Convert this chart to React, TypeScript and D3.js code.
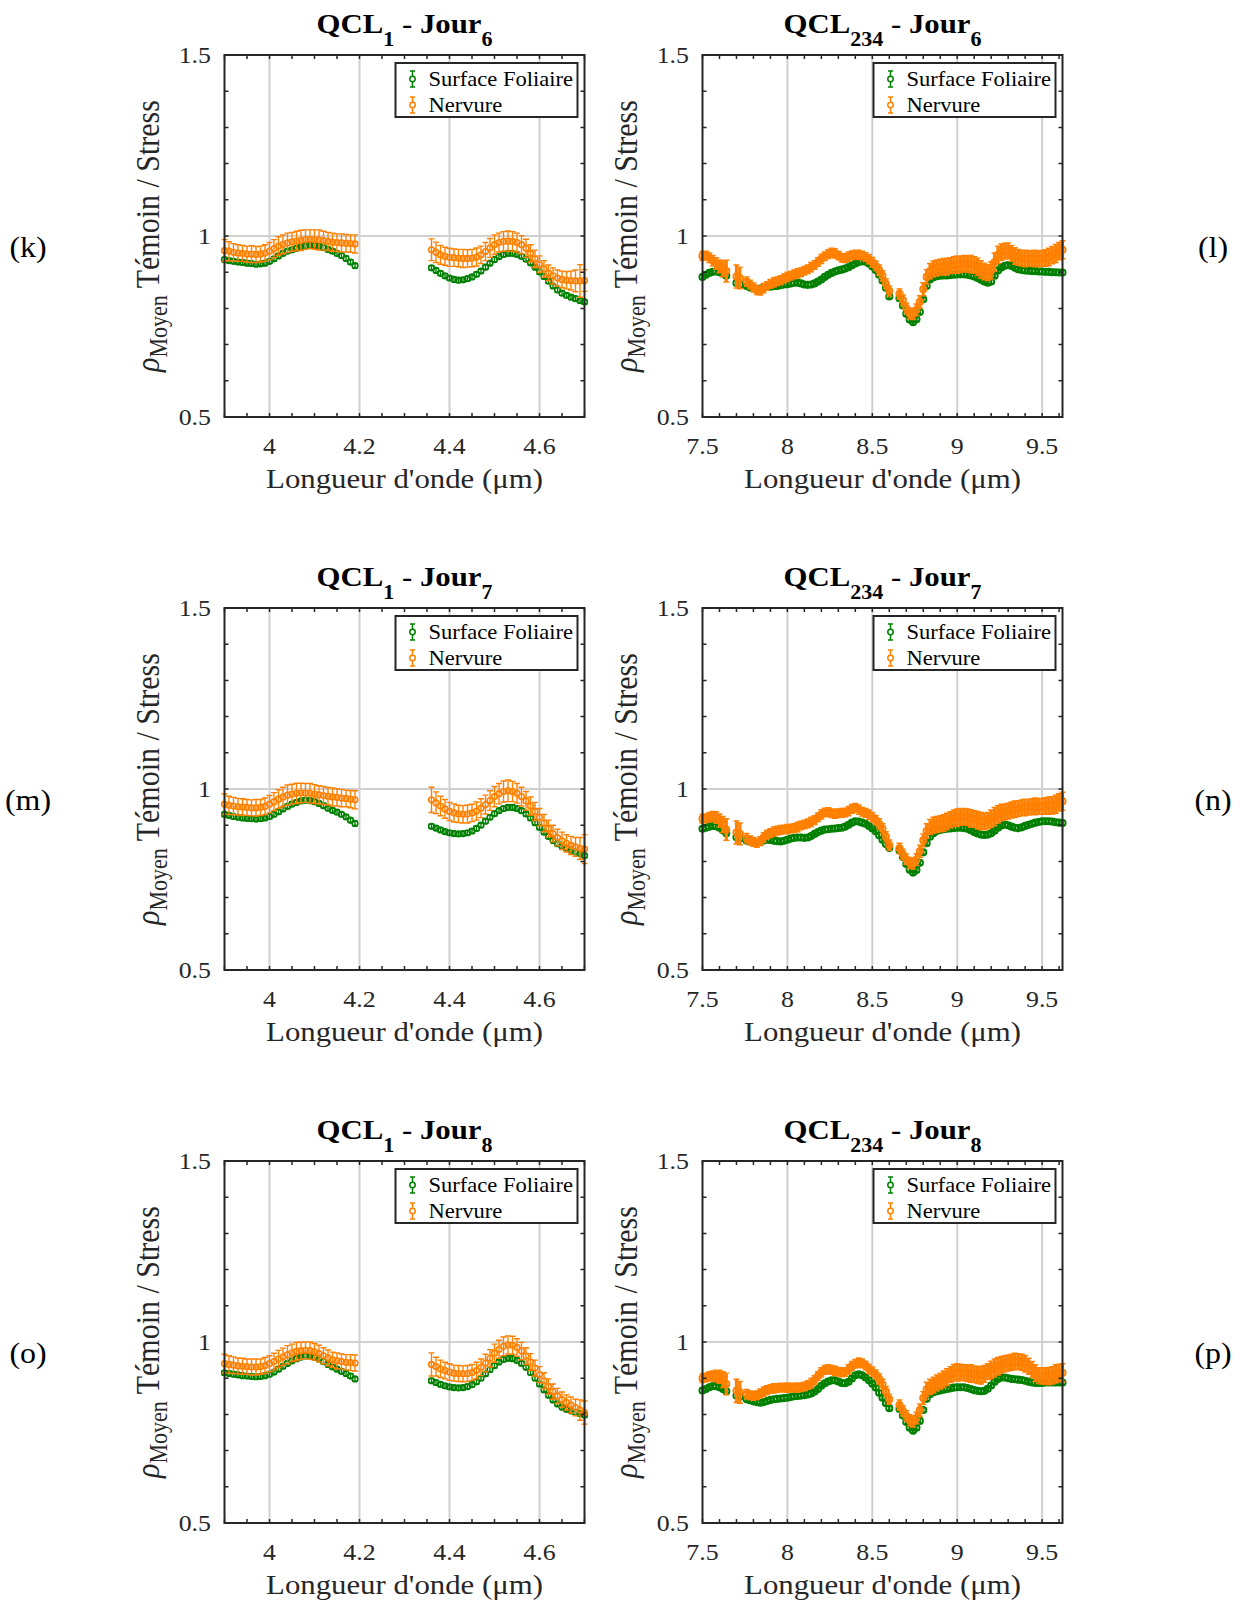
import React from 'react';
import * as d3 from 'd3';

// ---------- sampling grids (wavelength, µm) ----------
const LEFT_X1 = d3.range(30).map(i => +(3.9 + 0.01 * i).toFixed(2));
const LEFT_X2 = d3.range(35).map(i => +(4.36 + 0.01 * i).toFixed(2));
const RIGHT_X = d3.range(107).map(i => +(7.5 + 0.02 * i).toFixed(2));

// ---------- tick labels ----------
const LEFT_MAJOR = [4, 4.2, 4.4, 4.6];
const RIGHT_MAJOR = [7.5, 8, 8.5, 9, 9.5];
const Y_MAJOR = [0.5, 1, 1.5];

// ---------- QCL1 panels (left column) ----------
const K_GREEN1 = [0.935,0.932,0.930,0.928,0.927,0.925,0.924,0.922,0.923,0.925,0.930,0.937,0.945,0.952,0.958,0.962,0.966,0.970,0.972,0.974,0.974,0.972,0.968,0.963,0.958,0.952,0.946,0.938,0.928,0.918];
const K_GREEN2 = [0.912,0.905,0.897,0.890,0.884,0.880,0.878,0.879,0.882,0.887,0.894,0.903,0.914,0.925,0.935,0.943,0.949,0.952,0.952,0.949,0.944,0.936,0.926,0.914,0.901,0.888,0.875,0.862,0.851,0.842,0.836,0.831,0.827,0.822,0.818];
const K_ORANGE1 = [0.960,0.958,0.955,0.953,0.952,0.950,0.950,0.949,0.950,0.953,0.958,0.965,0.972,0.977,0.981,0.984,0.986,0.988,0.990,0.991,0.990,0.989,0.987,0.985,0.983,0.982,0.981,0.980,0.979,0.978];
const K_ORANGE2 = [0.962,0.955,0.948,0.944,0.941,0.940,0.939,0.938,0.938,0.939,0.942,0.948,0.957,0.967,0.976,0.982,0.985,0.986,0.985,0.982,0.976,0.966,0.952,0.937,0.922,0.909,0.898,0.890,0.884,0.880,0.878,0.877,0.876,0.876,0.877];
const K_ORANGE_ERR1 = [0.030,0.026,0.024,0.023,0.022,0.022,0.023,0.022,0.022,0.023,0.024,0.025,0.026,0.026,0.027,0.026,0.027,0.028,0.027,0.026,0.027,0.028,0.026,0.025,0.025,0.024,0.025,0.024,0.024,0.025];
const K_ORANGE_ERR2 = [0.030,0.028,0.026,0.025,0.025,0.024,0.024,0.025,0.024,0.024,0.025,0.024,0.025,0.026,0.027,0.026,0.027,0.028,0.027,0.026,0.025,0.025,0.024,0.024,0.023,0.023,0.022,0.022,0.022,0.023,0.024,0.026,0.030,0.045,0.030];

const M_GREEN1 = [0.930,0.927,0.924,0.922,0.920,0.919,0.918,0.917,0.918,0.920,0.924,0.930,0.937,0.945,0.952,0.958,0.963,0.967,0.969,0.968,0.965,0.960,0.954,0.947,0.941,0.936,0.930,0.923,0.914,0.905];
const M_GREEN2 = [0.897,0.892,0.887,0.882,0.879,0.877,0.876,0.877,0.879,0.884,0.891,0.900,0.911,0.922,0.932,0.940,0.946,0.949,0.949,0.946,0.940,0.931,0.920,0.907,0.894,0.881,0.869,0.858,0.849,0.842,0.836,0.831,0.826,0.821,0.816];
const M_ORANGE1 = [0.958,0.955,0.953,0.951,0.950,0.949,0.948,0.948,0.949,0.952,0.958,0.965,0.972,0.978,0.983,0.986,0.988,0.989,0.989,0.988,0.986,0.984,0.982,0.980,0.978,0.977,0.975,0.974,0.972,0.970];
const M_ORANGE2 = [0.970,0.962,0.953,0.945,0.938,0.934,0.931,0.930,0.931,0.934,0.939,0.947,0.957,0.968,0.979,0.987,0.993,0.995,0.993,0.988,0.979,0.967,0.953,0.938,0.922,0.906,0.891,0.877,0.866,0.857,0.850,0.844,0.840,0.836,0.834];
const M_ORANGE_ERR1 = [0.028,0.025,0.024,0.023,0.023,0.022,0.022,0.023,0.022,0.023,0.024,0.025,0.026,0.027,0.028,0.027,0.028,0.027,0.026,0.027,0.026,0.025,0.025,0.024,0.025,0.024,0.024,0.023,0.024,0.025];
const M_ORANGE_ERR2 = [0.035,0.030,0.027,0.026,0.025,0.025,0.024,0.024,0.025,0.024,0.025,0.026,0.026,0.027,0.028,0.028,0.029,0.030,0.028,0.027,0.026,0.026,0.025,0.025,0.024,0.024,0.023,0.023,0.023,0.024,0.024,0.025,0.026,0.030,0.040];

const O_GREEN1 = [0.915,0.913,0.911,0.909,0.907,0.906,0.905,0.904,0.905,0.907,0.911,0.917,0.925,0.933,0.941,0.948,0.954,0.958,0.961,0.961,0.958,0.953,0.946,0.938,0.931,0.925,0.919,0.913,0.906,0.898];
const O_GREEN2 = [0.893,0.888,0.883,0.879,0.876,0.874,0.873,0.874,0.877,0.882,0.890,0.900,0.912,0.924,0.935,0.945,0.952,0.955,0.954,0.949,0.941,0.930,0.916,0.900,0.884,0.868,0.853,0.840,0.829,0.820,0.814,0.810,0.806,0.802,0.798];
const O_ORANGE1 = [0.940,0.938,0.936,0.934,0.933,0.932,0.931,0.931,0.932,0.935,0.940,0.946,0.953,0.959,0.965,0.970,0.974,0.976,0.977,0.976,0.973,0.968,0.962,0.956,0.951,0.948,0.946,0.944,0.943,0.942];
const O_ORANGE2 = [0.938,0.932,0.926,0.921,0.917,0.914,0.913,0.912,0.913,0.916,0.921,0.930,0.942,0.955,0.969,0.980,0.988,0.992,0.991,0.985,0.975,0.961,0.945,0.928,0.910,0.893,0.877,0.863,0.851,0.841,0.833,0.826,0.819,0.812,0.805];
const O_ORANGE_ERR1 = [0.026,0.024,0.023,0.022,0.022,0.021,0.022,0.022,0.021,0.022,0.022,0.023,0.024,0.024,0.025,0.024,0.025,0.024,0.023,0.024,0.023,0.023,0.022,0.022,0.021,0.022,0.021,0.021,0.022,0.022];
const O_ORANGE_ERR2 = [0.032,0.026,0.024,0.023,0.023,0.022,0.022,0.022,0.022,0.022,0.023,0.023,0.024,0.024,0.025,0.025,0.026,0.025,0.025,0.024,0.024,0.023,0.023,0.022,0.022,0.022,0.021,0.021,0.021,0.021,0.021,0.022,0.023,0.028,0.032];

const LEFT_GREEN_ERR = 0.006;

// ---------- QCL234 panels (right column), null = no measurement ----------
const L_ORANGE = [0.945,0.946,0.940,0.932,0.924,0.916,0.910,0.903,null,null,0.888,0.884,null,
  0.874,0.866,0.858,0.850,0.849,0.856,0.862,0.868,0.872,0.875,0.878,0.883,0.887,0.890,0.894,0.897,0.900,0.904,0.908,0.914,0.920,0.928,0.937,0.944,0.950,0.954,0.952,0.946,0.940,0.939,0.943,0.947,0.949,0.948,0.946,0.942,0.936,0.928,0.918,0.906,0.890,0.868,0.848,
  null,null,
  0.840,0.823,0.801,0.786,0.784,0.796,0.818,0.853,0.887,0.903,0.909,0.912,0.914,0.915,0.916,0.918,0.920,0.921,0.922,0.924,0.923,0.922,0.920,0.915,0.908,0.902,0.899,0.905,0.928,0.948,0.955,0.958,0.959,0.952,0.945,0.941,0.939,0.938,0.938,0.938,0.938,0.937,0.938,0.939,0.942,0.947,0.952,0.958,0.962];
const L_GREEN = [0.887,0.893,0.898,0.901,0.902,0.900,0.896,0.890,null,null,0.870,0.866,null,
  0.862,0.858,0.855,0.854,0.855,0.857,0.859,0.860,0.861,0.862,0.864,0.866,0.867,0.869,0.871,0.871,0.869,0.866,0.865,0.866,0.869,0.874,0.880,0.887,0.893,0.898,0.902,0.905,0.907,0.910,0.914,0.919,0.924,0.928,0.930,0.929,0.924,0.916,0.906,0.893,0.877,0.857,0.833,
  null,null,
  0.828,0.808,0.785,0.769,0.762,0.770,0.790,0.825,0.862,0.880,0.886,0.889,0.890,0.891,0.891,0.892,0.893,0.894,0.894,0.894,0.893,0.891,0.888,0.884,0.879,0.874,0.871,0.874,0.890,0.905,0.913,0.918,0.920,0.917,0.912,0.908,0.906,0.905,0.904,0.903,0.903,0.902,0.902,0.901,0.901,0.900,0.900,0.899,0.899];

const N_ORANGE = [0.918,0.919,0.922,0.924,0.921,0.913,0.902,0.888,null,null,0.880,0.876,null,
  0.864,0.858,0.854,0.851,0.856,0.866,0.874,0.878,0.882,0.885,0.887,0.888,0.889,0.891,0.892,0.895,0.899,0.902,0.905,0.909,0.914,0.922,0.930,0.935,0.936,0.933,0.932,0.933,0.934,0.935,0.939,0.945,0.948,0.943,0.937,0.934,0.929,0.922,0.914,0.904,0.890,0.868,0.845,
  null,null,
  0.836,0.820,0.806,0.796,0.794,0.805,0.828,0.858,0.884,0.895,0.900,0.902,0.904,0.906,0.910,0.915,0.919,0.921,0.923,0.924,0.922,0.919,0.917,0.914,0.911,0.910,0.913,0.918,0.924,0.930,0.935,0.937,0.939,0.942,0.944,0.946,0.948,0.949,0.950,0.951,0.952,0.952,0.952,0.953,0.954,0.955,0.958,0.963,0.966];
const N_GREEN = [0.890,0.893,0.896,0.898,0.897,0.893,0.886,0.878,null,null,0.867,0.863,null,
  0.857,0.855,0.854,0.853,0.855,0.858,0.860,0.859,0.857,0.856,0.855,0.857,0.860,0.863,0.865,0.866,0.866,0.865,0.866,0.870,0.876,0.881,0.885,0.888,0.889,0.890,0.891,0.892,0.893,0.896,0.901,0.907,0.911,0.910,0.907,0.904,0.898,0.891,0.883,0.872,0.860,0.848,0.837,
  null,null,
  0.830,0.812,0.793,0.777,0.769,0.776,0.796,0.825,0.850,0.868,0.878,0.884,0.887,0.889,0.890,0.891,0.892,0.893,0.893,0.892,0.890,0.886,0.881,0.877,0.874,0.873,0.874,0.878,0.885,0.893,0.899,0.902,0.900,0.896,0.893,0.892,0.894,0.898,0.901,0.904,0.907,0.909,0.911,0.911,0.911,0.910,0.908,0.907,0.906];

const P_ORANGE = [0.900,0.902,0.905,0.906,0.906,0.904,0.896,0.884,null,null,0.865,0.861,null,
  0.856,0.853,0.851,0.853,0.858,0.863,0.867,0.870,0.872,0.873,0.874,0.874,0.874,0.874,0.874,0.874,0.875,0.877,0.881,0.886,0.895,0.906,0.916,0.923,0.925,0.923,0.920,0.918,0.916,0.917,0.924,0.934,0.940,0.943,0.941,0.935,0.926,0.918,0.910,0.898,0.883,0.863,0.842,
  null,null,
  0.826,0.810,0.796,0.784,0.780,0.790,0.812,0.845,0.869,0.876,0.881,0.887,0.892,0.897,0.903,0.910,0.915,0.916,0.916,0.915,0.914,0.913,0.911,0.909,0.908,0.912,0.918,0.923,0.928,0.933,0.937,0.940,0.942,0.944,0.946,0.946,0.944,0.940,0.933,0.924,0.914,0.907,0.906,0.906,0.906,0.908,0.912,0.915,0.915];
const P_GREEN = [0.866,0.870,0.875,0.878,0.878,0.875,0.870,0.864,null,null,0.852,0.849,null,
  0.842,0.839,0.836,0.834,0.832,0.834,0.837,0.840,0.842,0.843,0.844,0.845,0.846,0.848,0.850,0.851,0.852,0.853,0.855,0.858,0.863,0.870,0.879,0.886,0.891,0.894,0.894,0.891,0.887,0.886,0.890,0.899,0.908,0.911,0.908,0.902,0.894,0.885,0.874,0.860,0.846,0.831,0.817,
  null,null,
  0.815,0.797,0.779,0.763,0.755,0.763,0.782,0.812,0.843,0.856,0.861,0.864,0.866,0.868,0.870,0.872,0.874,0.875,0.875,0.875,0.873,0.870,0.867,0.865,0.864,0.865,0.871,0.880,0.890,0.898,0.902,0.902,0.900,0.898,0.897,0.896,0.895,0.893,0.890,0.888,0.887,0.887,0.887,0.888,0.888,0.888,0.888,0.888,0.888];

// orange error half-widths on the QCL234 grid (0 where no measurement)
const RIGHT_ORANGE_ERR = [0.012,0.012,0.013,0.014,0.016,0.018,0.022,0.030,0,0,0.032,0.030,0,
  0.013,0.012,0.012,0.012,0.012,0.013,0.012,0.012,0.013,0.012,0.012,0.012,0.013,0.012,0.012,0.013,0.012,0.012,0.012,0.013,0.012,0.012,0.013,0.012,0.012,0.012,0.013,0.012,0.012,0.012,0.013,0.012,0.012,0.013,0.012,0.012,0.013,0.013,0.013,0.014,0.014,0.014,0.014,
  0,0,
  0.014,0.014,0.014,0.015,0.015,0.016,0.017,0.018,0.020,0.021,0.022,0.022,0.022,0.023,0.023,0.022,0.023,0.024,0.023,0.022,0.023,0.024,0.023,0.024,0.024,0.023,0.022,0.024,0.025,0.024,0.023,0.022,0.022,0.022,0.023,0.022,0.022,0.023,0.022,0.022,0.023,0.022,0.022,0.023,0.024,0.024,0.025,0.024,0.025];
const RIGHT_GREEN_ERR = 0.006;

// ---------- styling ----------
const FONT = "'Liberation Serif','Times New Roman',Times,serif";
const GREEN = '#008000';
const ORANGE = '#ff8000';
const AXIS = '#262626';
const GRID = '#d0d0d0';
const SX = 1.1;
const W = 360;
const H = 362;
const COL_LEFT = [224.5, 702.5];
const ROW_TOP = [55, 608, 1161];

type Pt = { xv: number; v: number; e: number };

function Txt(props: any) {
  const { x, y, size, anchor = 'start', bold = false, rotate = false, fill = '#000', children } = props;
  return (
    <text
      transform={`translate(${x},${y}) scale(${SX},1)${rotate ? ' rotate(-90)' : ''}`}
      fontFamily={FONT}
      fontSize={size}
      textAnchor={anchor}
      fontWeight={bold ? 'bold' : 'normal'}
      fill={fill}
      style={{ whiteSpace: 'pre' }}
    >
      {children}
    </text>
  );
}

function buildPts(xs: number[], vs: (number | null)[], es: number[] | number): Pt[] {
  const out: Pt[] = [];
  const n = Math.min(xs.length, vs.length);
  for (let i = 0; i < n; i++) {
    const v = vs[i];
    if (v == null) continue;
    const e = Array.isArray(es) ? es[i] ?? es[es.length - 1] : es;
    out.push({ xv: xs[i], v, e });
  }
  return out;
}

function Series(props: { pts: Pt[]; color: string; x: any; y: any; r: number; sw: number; bw: number }) {
  const { pts, color, x, y, r, sw, bw } = props;
  const cap = 3;
  const stems = pts
    .map(d => `M${x(d.xv)},${y(d.v - d.e)}V${y(d.v + d.e)}`)
    .join('');
  const caps = pts
    .map(d => {
      const px = x(d.xv);
      const y0 = y(d.v - d.e);
      const y1 = y(d.v + d.e);
      return `M${px - cap},${y0}H${px + cap}M${px - cap},${y1}H${px + cap}`;
    })
    .join('');
  return (
    <g>
      <path d={stems} stroke={color} strokeWidth={bw} fill="none" />
      <path d={caps} stroke={color} strokeWidth={1.4} fill="none" />
      {pts.map((d, i) => (
        <circle key={i} cx={x(d.xv)} cy={y(d.v)} r={r} fill="none" stroke={color} strokeWidth={sw} />
      ))}
    </g>
  );
}

type PanelDef = {
  row: number;
  col: number;
  tag: string;
  qcl: string;
  day: string;
  green: Pt[];
  orange: Pt[];
};

const PANELS: PanelDef[] = [
  { row: 0, col: 0, tag: '(k)', qcl: '1', day: '6',
    green: [...buildPts(LEFT_X1, K_GREEN1, LEFT_GREEN_ERR), ...buildPts(LEFT_X2, K_GREEN2, LEFT_GREEN_ERR)],
    orange: [...buildPts(LEFT_X1, K_ORANGE1, K_ORANGE_ERR1), ...buildPts(LEFT_X2, K_ORANGE2, K_ORANGE_ERR2)] },
  { row: 0, col: 1, tag: '(l)', qcl: '234', day: '6',
    green: buildPts(RIGHT_X, L_GREEN, RIGHT_GREEN_ERR), orange: buildPts(RIGHT_X, L_ORANGE, RIGHT_ORANGE_ERR) },
  { row: 1, col: 0, tag: '(m)', qcl: '1', day: '7',
    green: [...buildPts(LEFT_X1, M_GREEN1, LEFT_GREEN_ERR), ...buildPts(LEFT_X2, M_GREEN2, LEFT_GREEN_ERR)],
    orange: [...buildPts(LEFT_X1, M_ORANGE1, M_ORANGE_ERR1), ...buildPts(LEFT_X2, M_ORANGE2, M_ORANGE_ERR2)] },
  { row: 1, col: 1, tag: '(n)', qcl: '234', day: '7',
    green: buildPts(RIGHT_X, N_GREEN, RIGHT_GREEN_ERR), orange: buildPts(RIGHT_X, N_ORANGE, RIGHT_ORANGE_ERR) },
  { row: 2, col: 0, tag: '(o)', qcl: '1', day: '8',
    green: [...buildPts(LEFT_X1, O_GREEN1, LEFT_GREEN_ERR), ...buildPts(LEFT_X2, O_GREEN2, LEFT_GREEN_ERR)],
    orange: [...buildPts(LEFT_X1, O_ORANGE1, O_ORANGE_ERR1), ...buildPts(LEFT_X2, O_ORANGE2, O_ORANGE_ERR2)] },
  { row: 2, col: 1, tag: '(p)', qcl: '234', day: '8',
    green: buildPts(RIGHT_X, P_GREEN, RIGHT_GREEN_ERR), orange: buildPts(RIGHT_X, P_ORANGE, RIGHT_ORANGE_ERR) },
];

function Panel({ p }: { p: PanelDef }) {
  const L = COL_LEFT[p.col];
  const T = ROW_TOP[p.row];
  const isLeft = p.col === 0;
  const domain = isLeft ? [3.9, 4.7] : [7.5, 9.62];
  const x = d3.scaleLinear().domain(domain).range([L, L + W]);
  const y = d3.scaleLinear().domain([0.5, 1.5]).range([T + H, T]);
  const major = isLeft ? LEFT_MAJOR : RIGHT_MAJOR;
  const minorX = isLeft
    ? d3.range(17).map(i => 3.9 + 0.05 * i)
    : d3.range(22).map(i => 7.5 + 0.1 * i);
  const minorY = d3.range(11).map(i => 0.5 + 0.1 * i);
  const tl = 4;
  const tickPath =
    minorX.map(v => `M${x(v)},${T + H}v${-tl}M${x(v)},${T}v${tl}`).join('') +
    minorY.map(v => `M${L},${y(v)}h${tl}M${L + W},${y(v)}h${-tl}`).join('');
  const cx = L + W / 2;
  const lgX = L + 171;
  const lgY = T + 8;
  const iconX = L + 188;
  const r = isLeft ? 2.8 : 3.1;
  const sw = isLeft ? 1.6 : 1.9;
  const bwOrange = isLeft ? 1.4 : 3.2;
  const bwGreen = isLeft ? 1.4 : 2.4;
  const legendItems = [
    { label: 'Surface Foliaire', color: GREEN, cy: T + 24 },
    { label: 'Nervure', color: ORANGE, cy: T + 50 },
  ];
  return (
    <g>
      {/* grid */}
      <g stroke={GRID} strokeWidth={2}>
        {major.filter(v => x(v) > L + 2 && x(v) < L + W - 2).map(v => (
          <line key={v} x1={x(v)} x2={x(v)} y1={T} y2={T + H} />
        ))}
        <line x1={L} x2={L + W} y1={y(1)} y2={y(1)} />
      </g>
      {/* data */}
      <Series pts={p.green} color={GREEN} x={x} y={y} r={r} sw={sw} bw={bwGreen} />
      <Series pts={p.orange} color={ORANGE} x={x} y={y} r={r} sw={sw} bw={bwOrange} />
      {/* axes */}
      <path d={tickPath} stroke={AXIS} strokeWidth={1.5} fill="none" />
      <rect x={L} y={T} width={W} height={H} fill="none" stroke={AXIS} strokeWidth={2} />
      {/* tick labels */}
      {major.map(v => (
        <Txt key={'x' + v} x={x(v)} y={T + H + 37} size={23.5} anchor="middle" fill={AXIS}>{String(v)}</Txt>
      ))}
      {Y_MAJOR.map(v => (
        <Txt key={'y' + v} x={L - 13.5} y={y(v) + 8} size={23.5} anchor="end" fill={AXIS}>{String(v)}</Txt>
      ))}
      {/* axis labels */}
      <Txt x={cx} y={T + H + 71} size={28} anchor="middle" fill={AXIS}>Longueur d'onde (μm)</Txt>
      <Txt x={L - 66} y={T + H / 2} size={30} anchor="middle" rotate fill={AXIS}>
        <tspan fontStyle="italic">ρ</tspan>
        <tspan dy={8} fontSize={22}>Moyen</tspan>
        <tspan dy={-8}> Témoin / Stress</tspan>
      </Txt>
      {/* title */}
      <Txt x={cx} y={T - 22} size={28} anchor="middle" bold>
        QCL<tspan dy={13} fontSize={20}>{p.qcl}</tspan>
        <tspan dy={-13}> - Jour</tspan>
        <tspan dy={13} fontSize={20}>{p.day}</tspan>
      </Txt>
      {/* legend */}
      <rect x={lgX} y={lgY} width={182} height={54} fill="#fff" stroke={AXIS} strokeWidth={2} />
      {legendItems.map(it => (
        <g key={it.label}>
          <path
            d={`M${iconX},${it.cy - 8}V${it.cy + 8}M${iconX - 2.5},${it.cy - 8}H${iconX + 2.5}M${iconX - 2.5},${it.cy + 8}H${iconX + 2.5}`}
            stroke={it.color}
            strokeWidth={1.5}
            fill="none"
          />
          <circle cx={iconX} cy={it.cy} r={2.7} fill="#fff" stroke={it.color} strokeWidth={1.5} />
          <Txt x={L + 204} y={it.cy + 7} size={20.5} fill="#000">{it.label}</Txt>
        </g>
      ))}
      {/* panel tag */}
      <Txt x={isLeft ? 28 : 1213} y={T + 202} size={29} anchor="middle">{p.tag}</Txt>
    </g>
  );
}

export default function App() {
  return (
    <svg
      width={1242}
      height={1606}
      viewBox="0 0 1242 1606"
      style={{ position: 'absolute', left: 0, top: 0, background: '#fff' }}
    >
      <rect x={0} y={0} width={1242} height={1606} fill="#fff" />
      {PANELS.map(p => (
        <Panel key={p.tag} p={p} />
      ))}
    </svg>
  );
}
